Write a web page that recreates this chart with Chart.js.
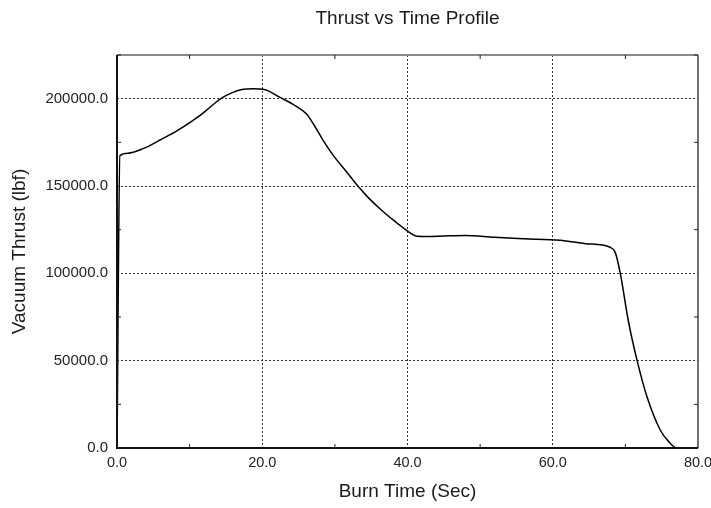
<!DOCTYPE html>
<html>
<head>
<meta charset="utf-8">
<script src="https://cdn.jsdelivr.net/npm/chart.js@4.4.0/dist/chart.umd.min.js"></script>
<style>
  html, body { margin: 0; padding: 0; background: #fff; }
  #wrap { width: 711px; height: 508px; }
</style>
</head>
<body>
<div id="wrap"><canvas id="thrustChart" width="711" height="508"></canvas></div>
<script>
// burn time (sec) and vacuum thrust (lbf)
let burnTime = [0, 0.4, 1.5, 3.6, 6, 8.3, 11.4, 13, 14.4, 15.8, 17.2, 18.7, 20.4, 22.45, 24.3, 26.1, 27.05, 28.4, 29.8, 31.6, 33.0, 34.4, 36.2, 38.1, 39.4, 40.4, 41.3, 42.7, 45, 47.9, 52, 56, 61, 64.5, 67.9, 68.6, 69.3, 70.4, 71.6, 73, 74.8, 76, 77.1, 80];
let thrust   = [0, 167400, 168800, 171400, 176500, 181700, 190300, 195800, 200300, 203300, 205200, 205700, 205100, 200700, 196600, 191200, 185500, 176000, 167400, 158200, 150800, 144200, 137000, 130300, 126100, 123000, 121300, 121100, 121400, 121700, 120600, 119800, 118900, 117000, 114900, 112000, 100000, 73000, 50300, 29000, 10300, 3500, 0, 0];

let chartTitle = "Thrust vs Time Profile";
let xMajor = [0, 20, 40, 60, 80];
let xMinor = [10, 30, 50, 70];
let yMajor = [0, 50000, 100000, 150000, 200000];
let yMinor = [25000, 75000, 125000, 175000, 225000];

let font = "'Liberation Sans', Arial, sans-serif";

// frame, inward minor ticks and the title centred over the plot
let framePlugin = {
  id: "frame",
  afterDraw(chart) {
    let c = chart.ctx, a = chart.chartArea;
    let xs = chart.scales.x, ys = chart.scales.y;
    c.save();
    c.lineWidth = 2;
    c.strokeStyle = "#8a8a8a";
    c.beginPath();
    c.moveTo(a.left, a.top); c.lineTo(a.right, a.top);
    c.stroke();
    c.strokeStyle = "#444";
    c.lineWidth = 1.5;
    c.beginPath();
    c.moveTo(a.right, a.top); c.lineTo(a.right, a.bottom);
    c.stroke();
    c.lineWidth = 2;
    c.strokeStyle = "#111";
    c.beginPath();
    c.moveTo(a.left, a.top); c.lineTo(a.left, a.bottom); c.lineTo(a.right, a.bottom);
    c.stroke();
    c.lineWidth = 1;
    c.strokeStyle = "#222";
    c.beginPath();
    xMinor.forEach(v => {
      let px = xs.getPixelForValue(v);
      c.moveTo(px, a.bottom); c.lineTo(px, a.bottom - 4);
      c.moveTo(px, a.top); c.lineTo(px, a.top + 4);
    });
    yMinor.forEach(v => {
      let py = ys.getPixelForValue(v);
      c.moveTo(a.left, py); c.lineTo(a.left + 4, py);
      c.moveTo(a.right, py); c.lineTo(a.right - 4, py);
    });
    c.stroke();
    c.fillStyle = "#1a1a1a";
    c.font = "19px " + font;
    c.textAlign = "center";
    c.textBaseline = "middle";
    c.fillText(chartTitle, (a.left + a.right) / 2, 19);
    c.restore();
  }
};

let ctx = document.getElementById("thrustChart").getContext("2d");
let chart = new Chart(ctx, {
  type: "line",
  data: {
    datasets: [{
      label: "Vacuum Thrust",
      data: burnTime.map((t, i) => ({ x: t, y: thrust[i] })),
      borderColor: "#000",
      borderWidth: 1.5,
      pointRadius: 0,
      fill: false,
      cubicInterpolationMode: "monotone"
    }]
  },
  options: {
    responsive: false,
    animation: false,
    layout: { padding: { left: 0, right: 13, top: 55, bottom: 0 } },
    plugins: {
      legend: { display: false },
      tooltip: { enabled: false },
      title: { display: false }
    },
    scales: {
      x: {
        type: "linear",
        min: 0, max: 80,
        afterBuildTicks: s => { s.ticks = xMajor.map(v => ({ value: v })); },
        afterFit: s => { s.height = 60; s.paddingLeft = 0; s.paddingRight = 0; },
        grid: {
          color: c => (c.tick && (c.tick.value === 0 || c.tick.value === 80)) ? "transparent" : "#333",
          lineWidth: 1,
          drawTicks: false
        },
        border: { display: false, dash: [2, 2] },
        ticks: {
          padding: 6,
          color: "#222",
          font: { family: font, size: 14.5 },
          maxRotation: 0,
          callback: v => v.toFixed(1)
        },
        title: {
          display: true,
          text: "Burn Time (Sec)",
          color: "#1a1a1a",
          font: { family: font, size: 19 },
          padding: { top: 0, bottom: 5 }
        }
      },
      y: {
        min: 0, max: 225000,
        afterBuildTicks: s => { s.ticks = yMajor.map(v => ({ value: v })); },
        afterFit: s => { s.width = 117; s.paddingTop = 0; s.paddingBottom = 0; },
        grid: {
          color: c => (c.tick && c.tick.value === 0) ? "transparent" : "#333",
          lineWidth: 1,
          drawTicks: false
        },
        border: { display: false, dash: [2, 2] },
        ticks: {
          padding: 9,
          color: "#222",
          font: { family: font, size: 15 },
          callback: v => v.toFixed(1)
        },
        title: {
          display: true,
          text: "Vacuum Thrust (lbf)",
          color: "#1a1a1a",
          font: { family: font, size: 19 },
          padding: { top: 8, bottom: 0 }
        }
      }
    }
  },
  plugins: [framePlugin]
});
</script>
</body>
</html>
